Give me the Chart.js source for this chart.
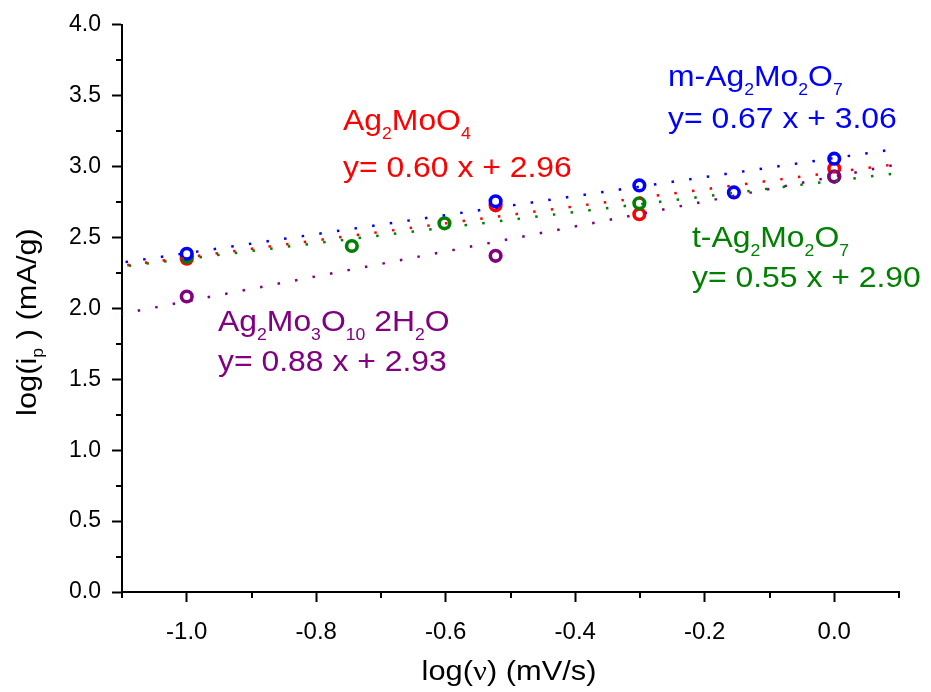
<!DOCTYPE html>
<html>
<head>
<meta charset="utf-8">
<script src="https://cdn.jsdelivr.net/npm/chart.js@4.4.0/dist/chart.umd.min.js"></script>
<style>
	html, body { margin: 0; padding: 0; background: #fff; }
	canvas { display: block; }
</style>
</head>
<body>
<canvas id="ipcanvas" width="931" height="692"></canvas>
<script>
// log(scan rate) values used in the measurements
var xMAg2Mo2O7 = [-1.0, -0.523, -0.301, -0.155, 0.0];
var yMAg2Mo2O7 = [2.385, 2.755, 2.867, 2.818, 3.056];

var xAg2MoO4 = [-1.0, -0.523, -0.301, 0.0];
var yAg2MoO4 = [2.35, 2.727, 2.664, 2.986];

var xTAg2Mo2O7 = [-1.0, -0.745, -0.602, -0.301, 0.0];
var yTAg2Mo2O7 = [2.364, 2.44, 2.60, 2.741, 2.93];

var xAg2Mo3O10 = [-1.0, -0.523, 0.0];
var yAg2Mo3O10 = [2.084, 2.371, 2.93];

// linear fits, as printed on the chart: m-Ag2Mo2O7, Ag2MoO4, t-Ag2Mo2O7, Ag2Mo3O10 2H2O
var fitNames = ['m-Ag_{2}Mo_{2}O_{7}', 'Ag_{2}MoO_{4}', 't-Ag_{2}Mo_{2}O_{7}', 'Ag_{2}Mo_{3}O_{10} 2H_{2}O'];
var fitSlope = [0.67, 0.60, 0.55, 0.88];
var fitIntercept = [3.06, 2.96, 2.90, 2.93];
var fitRange = [-1.1, 0.1];

var xTickLabels = ['-1.0', '-0.8', '-0.6', '-0.4', '-0.2', '0.0'];
var yTickLabels = ['0.0', '0.5', '1.0', '1.5', '2.0', '2.5', '3.0', '3.5', '4.0'];

var colors = ['#0000ff', '#ff0000', '#008000', '#800080'];
var FONT = '"Liberation Sans", Arial, sans-serif';

function pts(xs, ys) {
	var out = [];
	for (var i = 0; i < xs.length; i++) out.push({x: xs[i], y: ys[i]});
	return out;
}

function fitLine(k) {
	return [
		{x: fitRange[0], y: fitSlope[k] * fitRange[0] + fitIntercept[k]},
		{x: fitRange[1], y: fitSlope[k] * fitRange[1] + fitIntercept[k]}
	];
}

function markerSet(label, data, color, order) {
	return {
		label: label, data: data, order: order,
		pointStyle: 'circle', pointRadius: 5.3, pointHoverRadius: 5.3,
		pointBorderWidth: 3.6, borderColor: color, pointBackgroundColor: '#fff',
		showLine: false
	};
}

var dashOffsets = [14.2, 12.5, 11, 1.8];
function lineSet(k) {
	return {
		label: 'fit' + k, data: fitLine(k), order: -1,
		showLine: true, pointRadius: 0, borderColor: colors[k], borderWidth: 2.5,
		borderDash: [2.5, 15.3], borderDashOffset: dashOffsets[k], borderCapStyle: 'butt'
	};
}

// text with _{..} subscripts, stretched a bit horizontally like the original
function richParts(s) {
	var parts = [], re = /_\{([^}]*)\}/g, last = 0, m;
	while ((m = re.exec(s)) !== null) {
		if (m.index > last) parts.push({t: s.slice(last, m.index)});
		parts.push({t: m[1], sub: true});
		last = re.lastIndex;
	}
	if (last < s.length) parts.push({t: s.slice(last)});
	return parts;
}

function partWidth(ctx, parts, size) {
	var w = 0;
	parts.forEach(function(p) {
		ctx.font = (p.sub ? Math.round(size * 0.56) : size) + 'px ' + (p.font || FONT);
		w += ctx.measureText(p.t).width;
	});
	return w;
}

function drawParts(ctx, parts, size, subDrop) {
	var cx = 0;
	parts.forEach(function(p) {
		ctx.font = (p.sub ? Math.round(size * 0.56) : size) + 'px ' + (p.font || FONT);
		ctx.fillText(p.t, cx, p.sub ? subDrop : 0);
		cx += ctx.measureText(p.t).width;
	});
}

var labelPos = [
	{x: 668, y1: 86, y2: 128},
	{x: 343, y1: 130, y2: 177},
	{x: 692, y1: 247, y2: 287},
	{x: 218, y1: 331, y2: 371}
];

var decorPlugin = {
	id: 'decor',
	afterDraw: function(chart) {
		var ctx = chart.ctx;
		var xs = chart.scales.x, ys = chart.scales.y;
		var area = chart.chartArea;

		// minor tick marks
		ctx.save();
		ctx.strokeStyle = '#000';
		ctx.lineWidth = 2;
		xs.ticks.forEach(function(t) {
			if (t.label !== '') return;
			var px = Math.round(xs.getPixelForValue(t.value));
			ctx.beginPath(); ctx.moveTo(px, area.bottom); ctx.lineTo(px, area.bottom + 6); ctx.stroke();
		});
		ys.ticks.forEach(function(t) {
			if (t.label !== '') return;
			var py = Math.round(ys.getPixelForValue(t.value));
			ctx.beginPath(); ctx.moveTo(area.left, py); ctx.lineTo(area.left - 6, py); ctx.stroke();
		});
		ctx.restore();

		// fit labels
		ctx.save();
		ctx.textBaseline = 'alphabetic';
		ctx.textAlign = 'left';
		for (var k = 0; k < fitNames.length; k++) {
			var p = labelPos[k];
			ctx.fillStyle = colors[k];
			ctx.save();
			ctx.translate(p.x, p.y1); ctx.scale(1.1, 1);
			drawParts(ctx, richParts(fitNames[k]), 29, 9);
			ctx.restore();
			ctx.save();
			ctx.translate(p.x, p.y2); ctx.scale(1.1, 1);
			drawParts(ctx, [{t: 'y= ' + fitSlope[k].toFixed(2) + ' x + ' + fitIntercept[k].toFixed(2)}], 29, 9);
			ctx.restore();
		}

		// axis titles
		ctx.fillStyle = '#000';
		var xt = [{t: 'log('}, {t: '\u03bd', font: '"Liberation Serif", serif'}, {t: ') (mV/s)'}];
		var wx = partWidth(ctx, xt, 28) * 1.1;
		ctx.save();
		ctx.translate(509 - wx / 2, 680); ctx.scale(1.1, 1);
		drawParts(ctx, xt, 28, 7);
		ctx.restore();

		var yt = [{t: 'log(i'}, {t: 'p', sub: true}, {t: ' ) (mA/g)'}];
		var wy = partWidth(ctx, yt, 28) * 1.1;
		ctx.save();
		ctx.translate(36, 322); ctx.rotate(-Math.PI / 2); ctx.scale(1.1, 1);
		ctx.translate(-wy / 2 / 1.1, 0);
		drawParts(ctx, yt, 28, 7);
		ctx.restore();
		ctx.restore();
	}
};

function isMajorTick(c) {
	return c.tick && c.tick.label !== '';
}

var ctx = document.getElementById('ipcanvas').getContext('2d');
window.ipChart = new Chart(ctx, {
	type: 'scatter',
	data: {
		datasets: [
			markerSet('m-Ag2Mo2O7', pts(xMAg2Mo2O7, yMAg2Mo2O7), colors[0], 0),
			markerSet('Ag2MoO4', pts(xAg2MoO4, yAg2MoO4), colors[1], 3),
			markerSet('t-Ag2Mo2O7', pts(xTAg2Mo2O7, yTAg2Mo2O7), colors[2], 2),
			markerSet('Ag2Mo3O10 2H2O', pts(xAg2Mo3O10, yAg2Mo3O10), colors[3], 1),
			lineSet(0), lineSet(1), lineSet(2), lineSet(3)
		]
	},
	options: {
		responsive: false,
		animation: false,
		devicePixelRatio: 1,
		layout: { padding: { left: 0, right: 32, top: 20, bottom: 0 } },
		plugins: {
			legend: { display: false },
			tooltip: { enabled: false },
			title: { display: false }
		},
		scales: {
			x: {
				type: 'linear', position: 'bottom', min: -1.1, max: 0.1,
				afterFit: function(s) { s.height = 100; },
				border: { display: true, color: '#000', width: 2 },
				grid: {
					display: true, drawOnChartArea: false, drawTicks: true,
					tickLength: 10, tickWidth: 2,
					tickColor: function(c) { return isMajorTick(c) ? '#000' : 'rgba(0,0,0,0)'; }
				},
				ticks: {
					stepSize: 0.1, autoSkip: false, maxRotation: 0, padding: 16,
					color: '#000', font: { family: FONT, size: 24 },
					callback: function(v) {
						var s = (Math.round(v * 10) / 10).toFixed(1);
						return xTickLabels.indexOf(s) >= 0 ? s : '';
					}
				}
			},
			y: {
				type: 'linear', min: 0, max: 4,
				afterFit: function(s) { s.width = 122; },
				border: { display: true, color: '#000', width: 2 },
				grid: {
					display: true, drawOnChartArea: false, drawTicks: true,
					tickLength: 10, tickWidth: 2,
					tickColor: function(c) { return isMajorTick(c) ? '#000' : 'rgba(0,0,0,0)'; }
				},
				ticks: {
					stepSize: 0.25, autoSkip: false, padding: 11,
					color: '#000', font: { family: FONT, size: 23 },
					callback: function(v) {
						if (Math.abs(v * 2 - Math.round(v * 2)) > 1e-6) return '';
						var s = v.toFixed(1);
						return yTickLabels.indexOf(s) >= 0 ? s : '';
					}
				}
			}
		}
	},
	plugins: [decorPlugin]
});
</script>
</body>
</html>
